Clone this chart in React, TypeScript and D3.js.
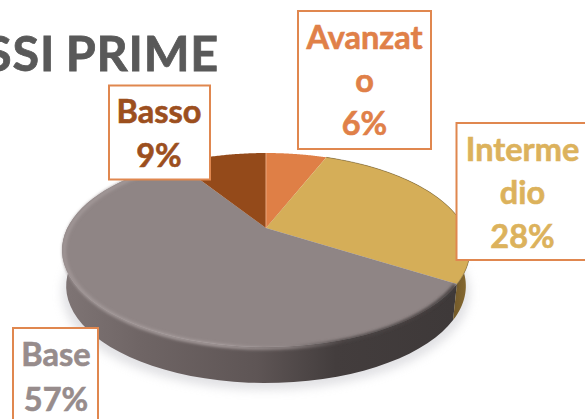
import React from "react";
import * as d3 from "d3";

const categories = ["Avanzato", "Intermedio", "Base", "Basso"];
const values = [6, 28, 57, 9];
const topColors = ["#df7f46", "#d5ae58", "#8f8585", "#944a1a"];
const labelLines = [["Avanzat", "o", "6%"], ["Interme", "dio", "28%"], ["Base", "57%"], ["Basso", "9%"]];
const labelColors = ["#e08048", "#dcb25c", "#978c8c", "#9c4f1e"];
const titleText = "CLASSI PRIME";

const W = 585, H = 419;
const cx = 266, cy = 228, a = 198.6, b = 92, k = 0.227, depth = 36;
const boxes = [
  { x: 298, y: 11, w: 133, h: 138, tx: 364.5, base: [49, 92, 135] },
  { x: 456.5, y: 123, w: 140, h: 137, tx: 522.5, base: [161, 204, 248] },
  { x: 13, y: 328, w: 85, h: 110, tx: 56, base: [366, 411] },
  { x: 109, y: 85.5, w: 101, h: 94, tx: 159, base: [123, 167] },
];

const project = (t: number, dy = 0, s = 1): [number, number] => {
  const u = Math.sin(t), v = Math.cos(t), w = 1 + k * v;
  return [cx + (s * a * u) / w, cy + dy - (b * v) / w];
};
const samples = (t0: number, t1: number) => d3.range(0, 61).map((i) => t0 + ((t1 - t0) * i) / 60);
const line = d3.line<[number, number]>();
const pie = d3.pie<number>().sort(null).value((d) => d);
const arcs = pie(values);

const topPath = (t0: number, t1: number) =>
  line([[cx, cy], ...samples(t0, t1).map((t) => project(t))]) + "Z";
const wallPath = (t0: number, t1: number) =>
  line([...samples(t0, t1).map((t) => project(t)), ...samples(t1, t0).map((t) => project(t, depth, 0.98))]) + "Z";
const rimPath = (t0: number, t1: number, dy = 0, s = 1) => line(samples(t0, t1).map((t) => project(t, dy, s)))!;
const shadowPath = line(samples(0, 2 * Math.PI).map((t) => project(t, depth + 7, 1.0))) + "Z";

export default function App() {
  const base = arcs[2], inter = arcs[1];
  return (
    <svg width={W} height={H} viewBox={`0 0 ${W} ${H}`} style={{ position: "fixed", left: 0, top: 0, background: "#fff" }}>
      <defs>
        <filter id="blur6" x="-20%" y="-20%" width="140%" height="140%"><feGaussianBlur stdDeviation="5" /></filter>
        <filter id="blur2" x="-20%" y="-20%" width="140%" height="140%"><feGaussianBlur stdDeviation="1.5" /></filter>
        <linearGradient id="wallBase" gradientUnits="userSpaceOnUse" x1={62} x2={453} y1={0} y2={0}>
          <stop offset="0" stopColor="#7f7575" />
          <stop offset="0.2" stopColor="#6f6565" />
          <stop offset="0.5" stopColor="#5e5555" />
          <stop offset="0.7" stopColor="#433d3d" />
          <stop offset="1" stopColor="#3e3939" />
        </linearGradient>
        <linearGradient id="wallInter" gradientUnits="userSpaceOnUse" x1={450} x2={470} y1={0} y2={0}>
          <stop offset="0" stopColor="#6e5628" />
          <stop offset="1" stopColor="#8a6c32" />
        </linearGradient>
        <linearGradient id="rimBase" gradientUnits="userSpaceOnUse" x1={62} x2={453} y1={0} y2={0}>
          <stop offset="0" stopColor="#a09696" />
          <stop offset="0.4" stopColor="#a89e9e" />
          <stop offset="0.58" stopColor="#8f8585" />
          <stop offset="0.72" stopColor="#4d4646" />
          <stop offset="1" stopColor="#443e3e" />
        </linearGradient>
      </defs>

      <text x={219} y={71} textAnchor="end" fontFamily="Lato, sans-serif" fontWeight={700} fontSize={48.5} letterSpacing={0.8} wordSpacing={-2} stroke="#595959" strokeWidth={0.8} fill="#595959">{titleText}</text>

      <path d={shadowPath} fill="#c9c9cf" opacity={0.55} filter="url(#blur6)" />
      <path d={wallPath(base.startAngle, base.endAngle)} fill="url(#wallBase)" />
      <path d={wallPath(inter.startAngle, inter.endAngle)} fill="url(#wallInter)" />

      {arcs.map((d, i) => (
        <path key={categories[i]} d={topPath(d.startAngle, d.endAngle)} fill={topColors[i]} />
      ))}
      <path d={rimPath(base.startAngle, base.endAngle, 1, 0.99)} fill="none" stroke="url(#rimBase)" strokeWidth={3.5} filter="url(#blur2)" />
      <path d={rimPath(inter.startAngle, inter.endAngle)} fill="none" stroke="#6e5a33" strokeWidth={0.8} opacity={0.6} />
      <path d={line([[cx, cy], project(0)])!} stroke="#e9a77f" strokeWidth={1} fill="none" />

      {boxes.map((bx, i) => (
        <g key={categories[i]}>
          <rect x={bx.x} y={bx.y} width={bx.w} height={bx.h} fill="#fff" stroke="#e0874f" strokeWidth={2} />
          {labelLines[i].map((t, j) => (
            <text key={j} x={bx.tx} y={bx.base[j]} textAnchor="middle" fontFamily="Lato, sans-serif" fontWeight={700} fontSize={32.5} stroke={labelColors[i]} strokeWidth={0.6} fill={labelColors[i]}>{t}</text>
          ))}
        </g>
      ))}
    </svg>
  );
}
